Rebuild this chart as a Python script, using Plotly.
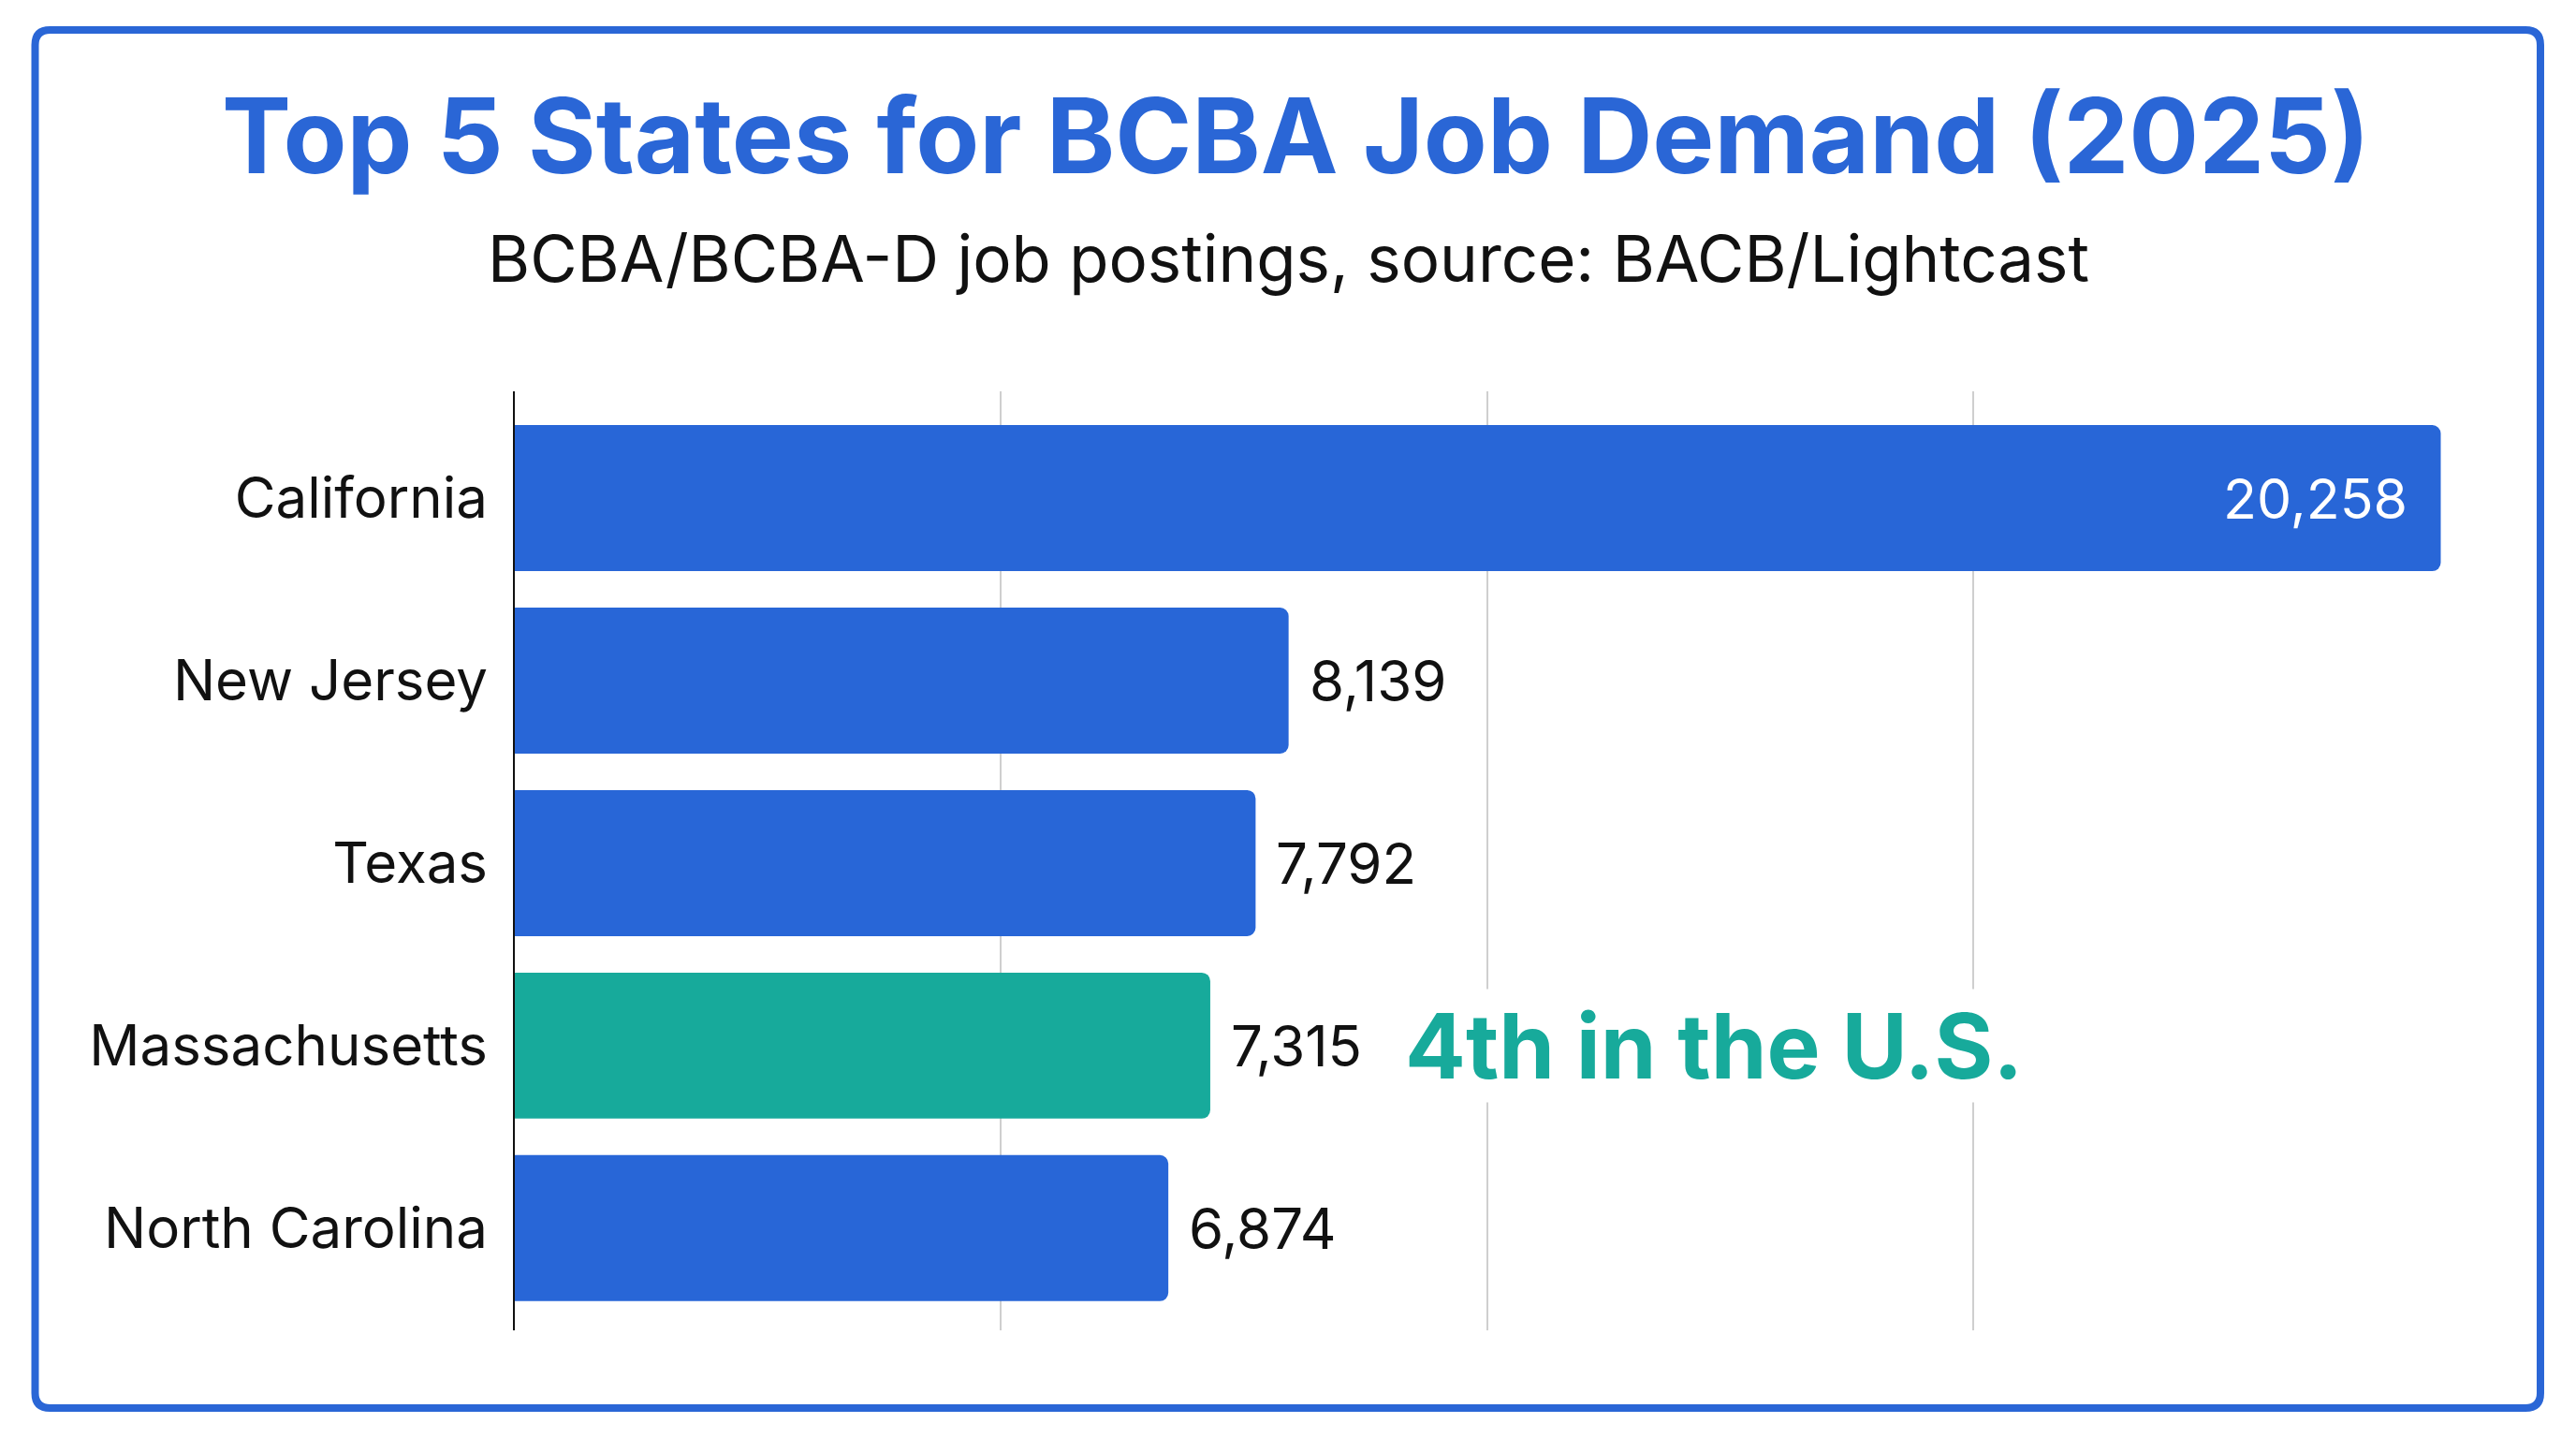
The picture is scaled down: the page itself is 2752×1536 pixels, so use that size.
import plotly.graph_objects as go

# ---- data ----
states = ["California", "New Jersey", "Texas", "Massachusetts", "North Carolina"]
postings = [20258, 8139, 7792, 7315, 6874]
value_labels = ["20,258", "8,139", "7,792", "7,315", "6,874"]
highlight_state = "Massachusetts"
highlight_note = "4th in the U.S."
title_text = "Top 5 States for BCBA Job Demand (2025)"
subtitle_text = "BCBA/BCBA-D job postings, source: BACB/Lightcast"

# ---- style ----
W, H = 2752, 1536
L, R_, T, B = 550, 125, 418, 115
PW, PH = W - L - R_, H - T - B
BLUE = "#2866d7"
TEAL = "#17aa9b"
TITLE_BLUE = "#2a66d6"
FONT = "Inter"

x_max = 20450
grid_vals = [x_max * k / 4 for k in range(1, 5)]

colors = [TEAL if s == highlight_state else BLUE for s in states]

fig = go.Figure()
fig.add_trace(go.Bar(
    x=postings, y=states, orientation="h",
    marker=dict(color=colors, line=dict(width=0), cornerradius=9),
    hoverinfo="skip", showlegend=False,
))

annotations = []
for i, (s, v, lab) in enumerate(zip(states, postings, value_labels)):
    if i == 0:
        annotations.append(dict(x=v, y=s, xref="x", yref="y", text=lab, showarrow=False,
                                xanchor="right", yanchor="middle", xshift=-34,
                                font=dict(family=FONT, size=59, color="white")))
    else:
        annotations.append(dict(x=v, y=s, xref="x", yref="y", text=lab, showarrow=False,
                                xanchor="left", yanchor="middle", xshift=20,
                                font=dict(family=FONT, size=60, color="#111111")))

hi = states.index(highlight_state)
annotations.append(dict(x=postings[hi], y=highlight_state, xref="x", yref="y",
                        text=highlight_note, showarrow=False, xanchor="left",
                        yanchor="middle", xshift=205, bgcolor="white", borderpad=2,
                        font=dict(family=FONT, size=96, color=TEAL, weight=700)))

def px(X):
    return (X - L) / PW

def py(Y):
    return (H - B - Y) / PH

annotations.append(dict(x=px(W / 2 + 8), y=py(144), xref="paper", yref="paper",
                        text=title_text, showarrow=False, xanchor="center", yanchor="middle",
                        font=dict(family=FONT, size=111, color=TITLE_BLUE, weight=700)))
annotations.append(dict(x=px(W / 2), y=py(276), xref="paper", yref="paper",
                        text=subtitle_text, showarrow=False, xanchor="center", yanchor="middle",
                        font=dict(family=FONT, size=69, color="#111111")))

# rounded border
x0, x1 = px(37.5), px(2714)
y0, y1 = py(1504), py(32)
rx, ry = 16 / PW, 16 / PH
path = (f"M{x0+rx},{y1} L{x1-rx},{y1} Q{x1},{y1} {x1},{y1-ry} "
        f"L{x1},{y0+ry} Q{x1},{y0} {x1-rx},{y0} L{x0+rx},{y0} "
        f"Q{x0},{y0} {x0},{y0+ry} L{x0},{y1-ry} Q{x0},{y1} {x0+rx},{y1} Z")
shapes = [dict(type="path", path=path, xref="paper", yref="paper",
               line=dict(color=TITLE_BLUE, width=8), fillcolor="rgba(0,0,0,0)", layer="above")]

fig.update_layout(
    width=W, height=H,
    margin=dict(l=L, r=R_, t=T, b=B, autoexpand=False),
    paper_bgcolor="white", plot_bgcolor="white",
    bargap=0.2,
    annotations=annotations, shapes=shapes,
    xaxis=dict(range=[0, x_max], tickvals=grid_vals, showticklabels=False,
               showgrid=True, gridcolor="#cfcfcf", gridwidth=2, zeroline=False,
               showline=False, fixedrange=True),
    yaxis=dict(categoryorder="array", categoryarray=states, range=[4.56, -0.585],
               showline=True, linecolor="#111111", linewidth=2, showgrid=False,
               ticks="", ticklabelstandoff=15,
               tickfont=dict(family=FONT, size=60, color="#111111"), fixedrange=True),
)

fig.write_html("out.html")
